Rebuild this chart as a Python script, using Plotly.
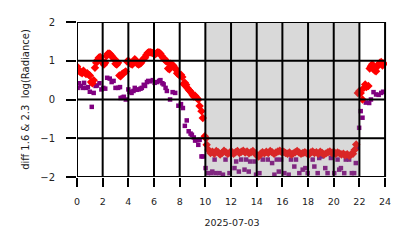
import plotly.graph_objects as go

# ---- data (hours of 2025-07-03, diff log radiance) ----
red_day_x = [0.0, 0.1, 0.2, 0.3, 0.4, 0.5, 0.6, 0.7, 0.8, 0.9, 1.0, 1.1, 1.2, 1.3, 1.4, 1.5, 1.6, 1.7, 1.8, 1.9,
             2.0, 2.1, 2.2, 2.3, 2.4, 2.5, 2.6, 2.7, 2.8, 2.9, 3.0, 3.1, 3.2, 3.3, 3.4, 3.5, 3.6, 3.7, 3.8, 3.9,
             4.0, 4.1, 4.2, 4.3, 4.4, 4.5, 4.6, 4.7, 4.8, 4.9, 5.0, 5.1, 5.2, 5.3, 5.4, 5.5, 5.6, 5.7, 5.8, 5.9,
             6.0, 6.1, 6.2, 6.3, 6.4, 6.5, 6.6, 6.7, 6.8, 6.9, 7.0, 7.1, 7.2, 7.3, 7.4, 7.5, 7.6, 7.7, 7.8, 7.9,
             8.0, 8.1, 8.2, 8.3, 8.4, 8.5, 8.6, 8.7, 8.8, 8.9, 9.0, 9.1, 9.2, 9.3, 9.45, 9.55, 9.7, 9.8, 9.95, 10.05]
red_day_y = [0.85, 0.78, 0.72, 0.70, 0.68, 0.74, 0.70, 0.66, 0.68, 0.64, 0.62, 0.45, 0.42, 0.50, 0.82, 0.95, 1.02, 1.08, 1.10, 1.02,
             0.95, 0.90, 0.95, 1.12, 1.18, 1.19, 1.17, 1.12, 1.08, 1.05, 0.92, 0.90, 0.95, 0.62, 0.60, 0.65, 0.68, 0.70, 0.72, 0.98,
             1.00, 0.95, 0.92, 0.90, 0.98, 1.04, 1.00, 0.92, 0.90, 0.92, 0.95, 1.02, 1.06, 1.08, 1.15, 1.20, 1.22, 1.22, 1.21, 1.20,
             1.18, 1.17, 1.20, 1.22, 1.21, 1.18, 1.12, 1.08, 1.05, 1.00, 0.98, 0.80, 0.78, 0.92, 0.90, 0.88, 0.82, 0.78, 0.68, 0.65,
             0.62, 0.64, 0.58, 0.40, 0.43, 0.38, 0.30, 0.25, 0.22, 0.18, 0.12, 0.08, 0.10, 0.05, 0.00, -0.17, -0.30, -0.48, -0.95, -1.00]

red_night_x = [10.1, 10.25, 10.4, 10.55, 10.7, 10.85, 11.0, 11.15, 11.3, 11.45, 11.6, 11.75, 11.9, 12.05, 12.2, 12.35,
               12.5, 12.65, 12.8, 12.95, 13.1, 13.25, 13.4, 13.55, 13.7, 13.85, 14.0, 14.15, 14.3, 14.45, 14.6, 14.75,
               14.9, 15.05, 15.2, 15.35, 15.5, 15.65, 15.8, 15.95, 16.1, 16.25, 16.4, 16.55, 16.7, 16.85, 17.0, 17.15,
               17.3, 17.45, 17.6, 17.75, 17.9, 18.05, 18.2, 18.35, 18.5, 18.65, 18.8, 18.95, 19.1, 19.25, 19.4, 19.55,
               19.7, 19.85, 20.0, 20.15, 20.3, 20.45, 20.6, 20.75, 20.9, 21.05, 21.2, 21.35, 21.5, 21.62, 21.75]
red_night_y = [-1.17, -1.30, -1.38, -1.35, -1.40, -1.33, -1.36, -1.42, -1.38, -1.32, -1.36, -1.40, -1.37, -1.35, -1.40, -1.36,
               -1.33, -1.38, -1.35, -1.32, -1.37, -1.34, -1.39, -1.36, -1.33, -1.38, -1.44, -1.47, -1.40, -1.36, -1.39, -1.35,
               -1.38, -1.33, -1.36, -1.40, -1.37, -1.34, -1.32, -1.36, -1.35, -1.38, -1.40, -1.37, -1.42, -1.39, -1.36, -1.33,
               -1.37, -1.40, -1.38, -1.36, -1.39, -1.42, -1.37, -1.34, -1.38, -1.36, -1.40, -1.35, -1.38, -1.42, -1.39, -1.36,
               -1.34, -1.38, -1.35, -1.40, -1.37, -1.39, -1.42, -1.40, -1.44, -1.41, -1.45, -1.42, -1.40, -1.30, -1.16]

red_morn_x = [21.88, 22.0, 22.1, 22.24, 22.35, 22.45, 22.55, 22.7, 22.8, 22.9, 23.0, 23.1, 23.2, 23.3, 23.4, 23.5, 23.6, 23.7, 23.8, 23.9]
red_morn_y = [0.17, 0.22, 0.17, 0.00, 0.30, 0.39, 0.32, 0.35, 0.80, 0.86, 0.91, 0.78, 0.75, 0.73, 0.85, 0.91, 0.95, 0.97, 0.88, 0.93]

pur_day_x = [0.05, 0.15, 0.3, 0.45, 0.55, 0.7, 0.85, 1.0, 1.15, 1.3, 1.45, 1.55, 1.75, 1.9, 2.05, 2.2, 2.35, 2.55, 2.7, 2.85,
             3.0, 3.2, 3.35, 3.4, 3.55, 3.65, 3.8, 4.0, 4.1, 4.25, 4.4, 4.5, 4.65, 4.8, 4.95, 5.05, 5.2, 5.3, 5.45, 5.55,
             5.7, 5.9, 6.05, 6.25, 6.4, 6.5, 6.65, 6.75, 6.9, 7.0, 7.25, 7.45, 7.65, 7.9, 8.1, 8.25, 8.4, 8.55, 8.7, 8.85,
             8.95, 9.1, 9.2, 9.35, 9.45, 9.55, 9.7, 9.81, 10.02, 10.2]
pur_day_y = [0.30, 0.42, 0.35, 0.30, 0.43, 0.30, 0.32, 0.20, -0.19, 0.17, 0.35, 0.36, 0.42, 0.26, 0.30, 0.28, 0.56, 0.54, 0.45, 0.48,
             0.30, 0.30, 0.32, 0.04, 0.05, 0.07, 0.00, 0.26, 0.20, 0.17, 0.22, 0.30, 0.25, 0.26, 0.28, 0.30, 0.38, 0.35, 0.45, 0.48,
             0.47, 0.50, 0.43, 0.45, 0.48, 0.50, 0.42, 0.39, 0.30, 0.22, 0.00, 0.19, 0.17, -0.16, -0.12, -0.22, -0.68, -0.54, -0.82, -0.88,
             -0.91, -0.98, -1.06, -1.05, -1.17, -1.04, -1.47, -1.47, -1.77, -1.90]

pur_night_x = [10.46, 10.54, 10.72, 10.8, 11.1, 11.37, 11.57, 11.88, 12.27, 12.4, 12.61, 12.79, 13.05, 13.18, 13.38, 13.49,
               13.83, 13.95, 14.21, 14.47, 14.86, 15.2, 15.38, 15.56, 15.72, 15.9, 16.15, 16.49, 16.67, 16.93, 17.06, 17.32,
               17.58, 17.79, 17.97, 18.36, 18.49, 18.75, 18.87, 19.08, 19.34, 19.52, 19.78, 20.04, 20.3, 20.43, 20.56, 20.82,
               20.94, 21.2, 21.41, 21.59, 21.72, 21.85]
pur_night_y = [-1.90, -1.86, -1.55, -1.90, -1.90, -1.94, -1.55, -1.90, -1.77, -1.60, -1.86, -1.55, -1.81, -1.55, -1.86, -1.60,
               -1.60, -1.94, -1.90, -1.55, -1.55, -1.64, -1.94, -1.55, -1.86, -1.55, -1.90, -1.94, -1.55, -1.73, -1.55, -1.90,
               -1.81, -1.77, -1.90, -1.55, -1.73, -1.90, -1.51, -1.47, -1.77, -1.90, -1.51, -1.90, -1.55, -1.81, -1.77, -1.90,
               -1.55, -1.55, -1.90, -1.90, -1.64, -1.25]

pur_morn_x = [21.98, 22.1, 22.24, 22.5, 22.76, 22.9, 23.1, 23.3, 23.5, 23.7, 23.85]
pur_morn_y = [-0.73, -0.30, -0.47, -0.08, -0.09, 0.00, 0.19, 0.13, 0.12, 0.17, 0.20]

night_span = [10, 22]
x_ticks = [0, 2, 4, 6, 8, 10, 12, 14, 16, 18, 20, 22, 24]
y_ticks = [-2, -1, 0, 1, 2]

red_x = red_day_x + red_night_x + red_morn_x
red_y = red_day_y + red_night_y + red_morn_y
pur_x = pur_day_x + pur_night_x + pur_morn_x
pur_y = pur_day_y + pur_night_y + pur_morn_y

fig = go.Figure()
fig.add_trace(go.Scatter(x=pur_x, y=pur_y, mode="markers",
                         marker=dict(symbol="square", size=4.5, color="#800080", line=dict(width=0)),
                         showlegend=False))
fig.add_trace(go.Scatter(x=red_x, y=red_y, mode="markers",
                         marker=dict(symbol="diamond", size=6.5, color="#ff0000", line=dict(width=0)),
                         showlegend=False))

# night shading (above markers, semi-transparent)
fig.add_shape(type="rect", xref="x", yref="y", x0=night_span[0], x1=night_span[1], y0=-2, y1=2,
              fillcolor="rgba(128,128,128,0.3)", line=dict(width=0), layer="above")
# grid lines drawn on top
for xv in x_ticks:
    fig.add_shape(type="line", xref="x", yref="y", x0=xv, x1=xv, y0=-2, y1=2,
                  line=dict(color="black", width=2), layer="above")
for yv in y_ticks:
    fig.add_shape(type="line", xref="x", yref="y", x0=0, x1=24, y0=yv, y1=yv,
                  line=dict(color="black", width=2), layer="above")

font = dict(family="DejaVu Sans", size=10, color="#222222")
fig.update_layout(
    width=414, height=248,
    margin=dict(l=77, r=27, t=22, b=71),
    paper_bgcolor="white", plot_bgcolor="white",
    font=font,
    xaxis=dict(range=[0, 24.15], tickvals=x_ticks, ticktext=[str(v) for v in x_ticks],
               showgrid=False, zeroline=False, ticks="outside", ticklen=9, tickwidth=2,
               tickcolor="black", showline=False, tickfont=dict(size=9.5), ticklabelstandoff=7,
               title=dict(text="2025-07-03", font=dict(size=9.5), standoff=12)),
    yaxis=dict(range=[-2, 2], tickvals=y_ticks, ticktext=["−2", "−1", "0", "1", "2"],
               showgrid=False, zeroline=False, ticks="outside", ticklen=10, tickwidth=2,
               tickcolor="black", showline=False, tickfont=dict(size=10), ticklabelstandoff=9,
               title=dict(text="diff 1.6 &amp; 2.3  log(Radiance)", font=dict(size=10), standoff=8)),
)

fig.write_html("out.html")
